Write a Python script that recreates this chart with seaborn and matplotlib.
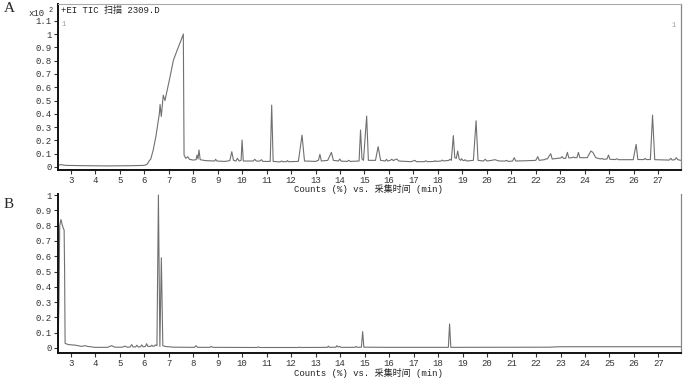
import matplotlib
matplotlib.use("Agg")
import matplotlib.pyplot as plt
import numpy as np
import pandas as pd
import seaborn as sns

# --- Data: breakpoints (time in min, relative abundance) ---
rt_a = [2.48, 2.6, 2.8, 3.5, 4.5, 5.5, 6.0, 6.12, 6.17, 6.22, 6.27, 6.37, 6.48, 6.58,
        6.62, 6.65, 6.70, 6.78, 6.85, 7.06, 7.19, 7.35, 7.51, 7.60, 7.63, 7.70, 7.78,
        7.85, 8.0, 8.12, 8.16, 8.20, 8.24, 8.29, 8.5, 8.88, 8.92, 8.97, 9.3, 9.5, 9.58,
        9.65, 9.75, 9.81, 9.88, 9.96, 10.0, 10.05, 10.45, 10.52, 10.58, 10.72, 10.79,
        10.85, 11.15, 11.21, 11.27, 11.55, 11.61, 11.67, 11.8, 11.85, 11.9, 12.3, 12.45,
        12.55, 13.0, 13.12, 13.18, 13.24, 13.5, 13.65, 13.73, 13.94, 13.99, 14.05, 14.3,
        14.36, 14.42, 14.78, 14.84, 14.9, 14.96, 15.09, 15.16, 15.45, 15.56, 15.66,
        15.85, 15.9, 15.95, 16.05, 16.12, 16.18, 16.25, 16.32, 16.4, 16.9, 17.06, 17.12,
        17.45, 17.51, 17.57, 17.85, 17.88, 17.93, 18.13, 18.18, 18.24, 18.45, 18.49,
        18.55, 18.63, 18.69, 18.75, 18.81, 18.87, 18.93, 18.97, 19.02, 19.07, 19.11,
        19.17, 19.45, 19.56, 19.64, 19.85, 19.94, 20.0, 20.2, 20.33, 20.5, 20.75, 20.81,
        20.87, 21.05, 21.12, 21.18, 21.6, 22.0, 22.08, 22.14, 22.35, 22.42, 22.47, 22.54,
        22.61, 22.67, 22.9, 23.02, 23.07, 23.13, 23.22, 23.29, 23.35, 23.48, 23.54, 23.6,
        23.68, 23.74, 23.8, 24.1, 24.25, 24.33, 24.45, 24.65, 24.7, 24.76, 24.91, 24.97,
        25.03, 25.25, 25.31, 25.38, 25.98, 26.10, 26.17, 26.42, 26.47, 26.52, 26.68,
        26.77, 26.86, 27.45, 27.52, 27.57, 27.68, 27.74, 27.8, 27.92]
sig_a = [0.012, 0.018, 0.012, 0.01, 0.008, 0.01, 0.012, 0.02, 0.035, 0.05, 0.06, 0.128,
         0.23, 0.35, 0.40, 0.47, 0.38, 0.54, 0.50, 0.68, 0.80, 0.88, 0.955, 1.0, 0.09,
         0.065, 0.077, 0.058, 0.052, 0.055, 0.09, 0.06, 0.128, 0.055, 0.048, 0.045,
         0.058, 0.045, 0.042, 0.048, 0.115, 0.05, 0.045, 0.065, 0.045, 0.05, 0.203,
         0.045, 0.045, 0.058, 0.045, 0.044, 0.055, 0.042, 0.042, 0.466, 0.042, 0.038,
         0.045, 0.04, 0.04, 0.048, 0.04, 0.042, 0.24, 0.045, 0.042, 0.05, 0.095, 0.045,
         0.05, 0.11, 0.05, 0.045, 0.06, 0.044, 0.042, 0.05, 0.042, 0.045, 0.278, 0.06,
         0.05, 0.383, 0.05, 0.05, 0.153, 0.05, 0.045, 0.058, 0.045, 0.05, 0.058, 0.048,
         0.055, 0.06, 0.045, 0.04, 0.05, 0.04, 0.04, 0.047, 0.04, 0.042, 0.047, 0.042,
         0.045, 0.052, 0.045, 0.05, 0.058, 0.05, 0.236, 0.07, 0.065, 0.12, 0.06, 0.05,
         0.062, 0.05, 0.048, 0.055, 0.045, 0.05, 0.348, 0.05, 0.045, 0.058, 0.045, 0.05,
         0.055, 0.045, 0.045, 0.05, 0.042, 0.045, 0.07, 0.045, 0.047, 0.05, 0.078, 0.05,
         0.055, 0.062, 0.06, 0.08, 0.10, 0.06, 0.065, 0.068, 0.078, 0.065, 0.065, 0.11,
         0.068, 0.07, 0.075, 0.07, 0.07, 0.11, 0.07, 0.07, 0.12, 0.11, 0.07, 0.06, 0.065,
         0.058, 0.06, 0.09, 0.058, 0.056, 0.062, 0.055, 0.055, 0.17, 0.056, 0.056, 0.065,
         0.056, 0.056, 0.39, 0.055, 0.052, 0.065, 0.052, 0.055, 0.07, 0.055, 0.05]

rt_b = [2.48, 2.52, 2.55, 2.6, 2.66, 2.73, 2.75, 2.77, 2.9, 3.2, 3.45, 3.58, 3.7, 4.0,
        4.5, 4.67, 4.8, 5.1, 5.22, 5.3, 5.42, 5.49, 5.55, 5.65, 5.70, 5.76, 5.85, 5.90,
        5.96, 6.05, 6.10, 6.15, 6.26, 6.31, 6.36, 6.41, 6.46, 6.52, 6.58, 6.64, 6.70,
        6.76, 6.85, 7.2, 8.05, 8.12, 8.18, 8.68, 8.74, 8.8, 10.6, 10.66, 10.72, 12.3,
        12.34, 12.38, 13.48, 13.52, 13.56, 13.83, 13.87, 13.92, 13.98, 14.04, 14.6,
        14.65, 14.7, 14.87, 14.92, 14.97, 16.0, 18.42, 18.47, 18.52, 22.5, 23.0, 27.92]
sig_b = [0.02, 0.30, 0.80, 0.84, 0.80, 0.77, 0.5, 0.03, 0.022, 0.018, 0.01, 0.015,
         0.01, 0.004, 0.004, 0.015, 0.005, 0.005, 0.012, 0.005, 0.006, 0.022, 0.006,
         0.007, 0.018, 0.006, 0.008, 0.02, 0.007, 0.01, 0.028, 0.01, 0.01, 0.018, 0.01,
         0.012, 0.02, 0.015, 1.0, 0.01, 0.59, 0.015, 0.01, 0.005, 0.004, 0.015, 0.004,
         0.004, 0.01, 0.004, 0.003, 0.007, 0.003, 0.003, 0.006, 0.003, 0.004, 0.012,
         0.004, 0.005, 0.015, 0.006, 0.01, 0.004, 0.004, 0.01, 0.004, 0.005, 0.107,
         0.005, 0.004, 0.004, 0.157, 0.004, 0.005, 0.008, 0.008]

x_ticks = list(range(3, 28))
y_ticks_a = [0, 0.1, 0.2, 0.3, 0.4, 0.5, 0.6, 0.7, 0.8, 0.9, 1, 1.1]
y_ticks_b = [0, 0.1, 0.2, 0.3, 0.4, 0.5, 0.6, 0.7, 0.8, 0.9, 1]

XLABEL = "Counts (%) vs. 采集时间 (min)"
TITLE_A = "+EI TIC 扫描 2309.D"

sns.set_style("white")
plt.rcParams["font.family"] = ["Liberation Mono", "Noto Sans CJK SC"]
plt.rcParams["axes.unicode_minus"] = False

fig = plt.figure(figsize=(6.85, 3.8), dpi=100)
ax_a = fig.add_axes([58 / 685, 1 - 170 / 380, 622.7 / 685, 166 / 380])
ax_b = fig.add_axes([58 / 685, 1 - 353 / 380, 623 / 685, 159 / 380])
ax_b.patch.set_alpha(0)

LINE = "#707070"
df_a = pd.DataFrame({"rt": rt_a, "sig": sig_a})
df_b = pd.DataFrame({"rt": rt_b, "sig": sig_b})
sns.lineplot(data=df_a, x="rt", y="sig", ax=ax_a, color=LINE, linewidth=0.8,
             estimator=None, sort=False)
sns.lineplot(data=df_b, x="rt", y="sig", ax=ax_b, color=LINE, linewidth=0.8,
             estimator=None, sort=False)


def style_axes(ax, yticks, ylim, top_spine):
    ax.set_xlim(2.48, 27.92)
    ax.set_ylim(*ylim)
    ax.set_xticks(x_ticks)
    ax.set_xticklabels([str(t) for t in x_ticks])
    ax.set_yticks(yticks)
    ax.set_yticklabels([f"{v:g}" for v in yticks])
    ax.tick_params(axis="both", direction="out", length=3, width=0.8,
                   labelsize=6.5, colors="#333333", pad=1.5, left=True, bottom=True)
    ax.set_ylabel("")
    ax.set_xlabel("")
    for side in ("left", "bottom"):
        ax.spines[side].set_color("#111111")
        ax.spines[side].set_linewidth(1.4)
    ax.spines["right"].set_color("#888888")
    ax.spines["right"].set_linewidth(0.9)
    ax.spines["top"].set_visible(top_spine)
    ax.spines["top"].set_color("#aaaaaa")
    ax.spines["top"].set_linewidth(0.8)


style_axes(ax_a, y_ticks_a, (-0.0226, 1.226), True)
style_axes(ax_b, y_ticks_b, (-0.033, 1.007), False)

# Axis titles placed under each panel
fig.text(368 / 685, 1 - 189 / 380, XLABEL, fontsize=6.5, color="#222222",
         ha="center", va="center")
fig.text(368 / 685, 1 - 373.5 / 380, XLABEL, fontsize=6.5, color="#222222",
         ha="center", va="center")

# Annotations
ax_a.text(0.005, 0.963, TITLE_A, transform=ax_a.transAxes, fontsize=6.5,
          color="#222222", va="center", ha="left")
ax_a.text(0.006, 0.875, "1", transform=ax_a.transAxes, fontsize=5,
          color="#999999", va="center", ha="left")
ax_a.text(0.992, 0.868, "1", transform=ax_a.transAxes, fontsize=5,
          color="#999999", va="center", ha="right")
fig.text(29 / 685, 1 - 13 / 380, "x10", fontsize=6.5, color="#333333",
         va="center", ha="left")
fig.text(49 / 685, 1 - 10 / 380, "2", fontsize=5, color="#333333",
         va="center", ha="left")
fig.text(4 / 685, 1 - 8.5 / 380, "A", fontsize=11, family="Liberation Serif",
         va="center", ha="left")
fig.text(4 / 685, 1 - 205 / 380, "B", fontsize=11, family="Liberation Serif",
         va="center", ha="left")

fig.savefig("out.png", dpi=100)
